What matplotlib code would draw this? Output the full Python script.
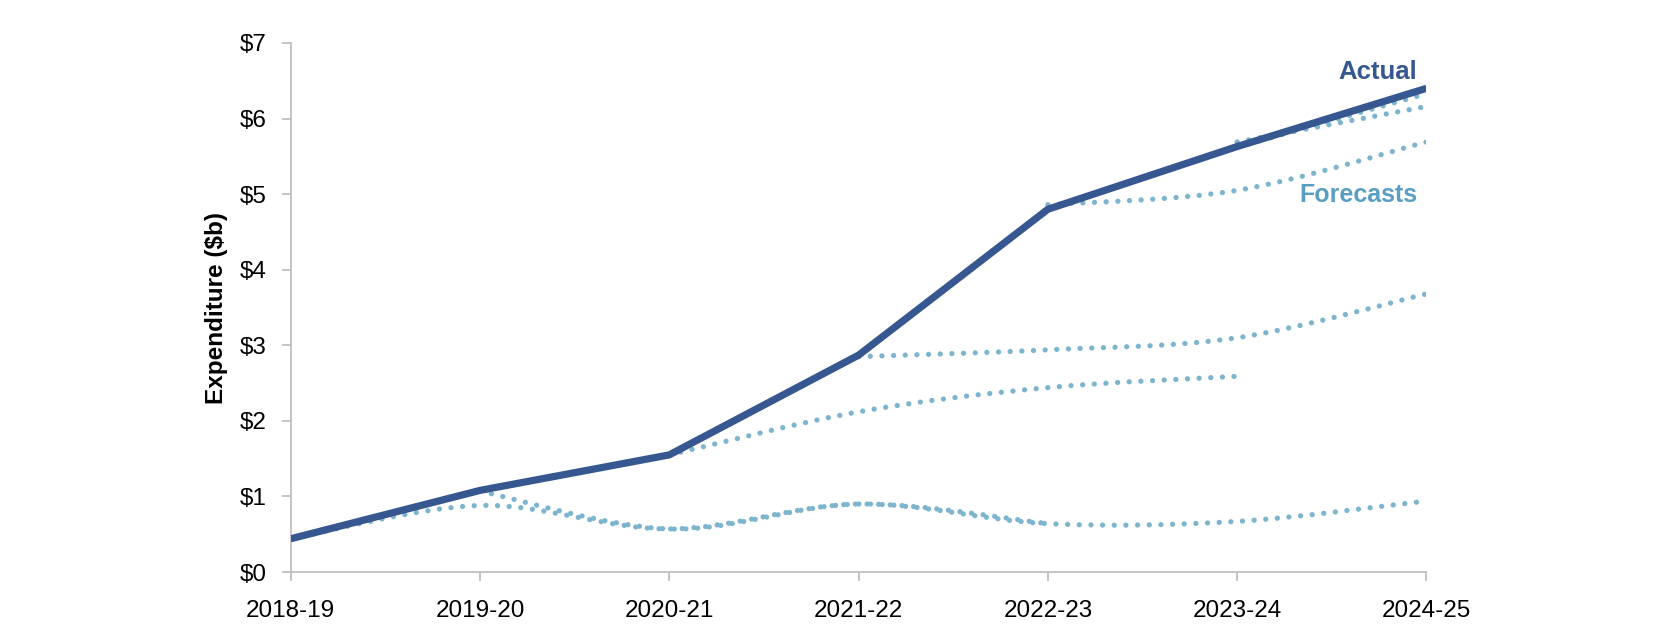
import matplotlib.pyplot as plt
from matplotlib.path import Path
from matplotlib.patches import PathPatch

plt.rcParams['font.family'] = ['Liberation Sans', 'DejaVu Sans']

years = ['2018-19', '2019-20', '2020-21', '2021-22', '2022-23', '2023-24', '2024-25']

# Actual expenditure ($b)
actual = [0.44, 1.08, 1.55, 2.87, 4.80, 5.63, 6.40]

# Forecast series: (index of first year, values)
forecast_1 = (0, [0.44, 0.88, 0.57, 0.90, 0.64])
forecast_2 = (1, [1.07, 0.57, 0.90, 0.64, 0.67, 0.94])
forecast_3 = (2, [1.55, 2.12, 2.44, 2.59])
forecast_4 = (3, [2.85, 2.94, 3.10, 3.68])
forecast_5 = (4, [4.86, 5.05, 5.69])
forecast_6 = (5, [5.69, 6.16])
forecast_7 = (5, [5.62, 6.33])
forecasts = [forecast_1, forecast_2, forecast_3, forecast_4, forecast_5, forecast_6, forecast_7]

actual_col = '#36578f'
fc_col = '#7db4ce'
fc_text_col = '#5a9fc2'
axis_col = '#bfbfbf'


# smoothed line like Excel: bezier through the points
def smooth_path(xs, ys):
    pts = list(zip(xs, ys))
    n = len(pts)
    verts = [pts[0]]
    codes = [Path.MOVETO]
    for i in range(n - 1):
        p0 = pts[i - 1] if i > 0 else pts[i]
        p1 = pts[i]
        p2 = pts[i + 1]
        p3 = pts[i + 2] if i + 2 < n else pts[i + 1]
        c1 = (p1[0] + (p2[0] - p0[0]) / 6, p1[1] + (p2[1] - p0[1]) / 6)
        c2 = (p2[0] - (p3[0] - p1[0]) / 6, p2[1] - (p3[1] - p1[1]) / 6)
        verts += [c1, c2, p2]
        codes += [Path.CURVE4] * 3
    return Path(verts, codes)


fig = plt.figure(figsize=(16.68, 6.36), dpi=100)
ax = fig.add_axes([0.1743, 0.1006, 0.6809, 0.8318])

for start, vals in forecasts:
    xs = list(range(start, start + len(vals)))
    patch = PathPatch(smooth_path(xs, vals), fill=False, edgecolor=fc_col,
                      lw=3.8, linestyle=(0, (0.01, 2.2)), capstyle='round', zorder=2)
    ax.add_patch(patch)

ax.plot(range(len(actual)), actual, color=actual_col, lw=5.2, zorder=3,
        solid_capstyle='butt', solid_joinstyle='miter')

ax.text(5.95, 6.62, 'Actual', color=actual_col, fontsize=18.5, fontweight='bold',
        ha='right', va='center')
ax.text(5.95, 4.99, 'Forecasts', color=fc_text_col, fontsize=18, fontweight='bold',
        ha='right', va='center')

ax.set_xlim(0, 6)
ax.set_ylim(0, 7)
ax.set_xticks(range(len(years)))
ax.set_xticklabels(years)
ax.set_yticks(range(8))
ax.set_yticklabels(['$%d' % v for v in range(8)])
ax.set_ylabel('Expenditure ($b)', fontsize=17.5, fontweight='bold', labelpad=8)

for side in ['top', 'right']:
    ax.spines[side].set_visible(False)
for side in ['left', 'bottom']:
    ax.spines[side].set_color(axis_col)
    ax.spines[side].set_linewidth(1.3)
ax.tick_params(axis='both', colors=axis_col, labelcolor='black', labelsize=17.5,
               length=6.5, width=1.3)
ax.tick_params(axis='y', pad=11)
ax.tick_params(axis='x', pad=14)
for lab in ax.get_xticklabels() + ax.get_yticklabels():
    lab.set_clip_on(False)

fig.savefig('out.png', dpi=100)
